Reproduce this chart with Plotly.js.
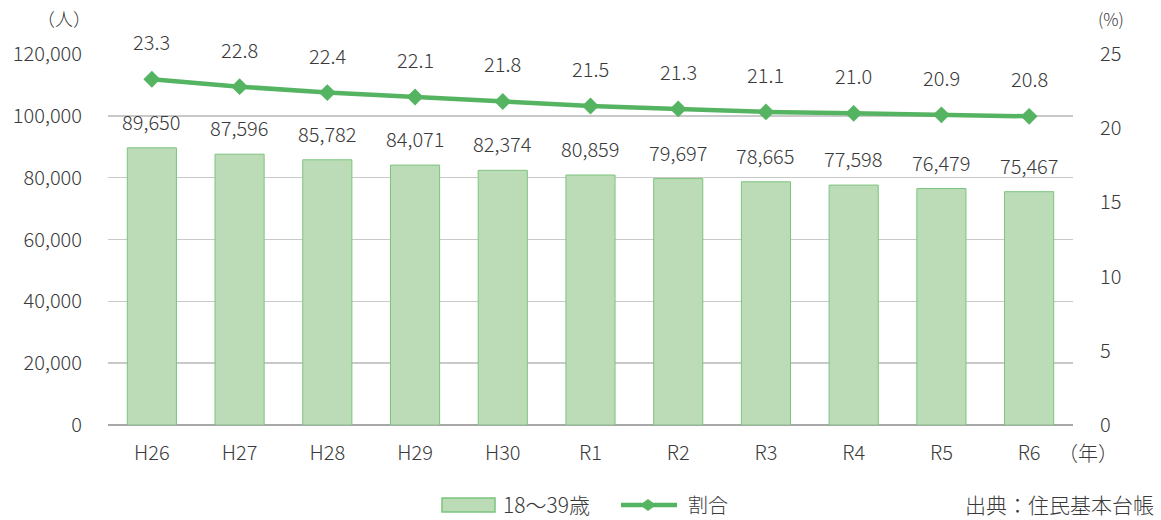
<!DOCTYPE html>
<html>
<head>
<meta charset="utf-8">
<script src="https://cdn.plot.ly/plotly-3.0.1.min.js"></script>
<style>html,body{margin:0;padding:0;background:#fff;}#chart{width:1161px;height:520px;}</style>
</head>
<body>
<div id="chart"></div>
<script>
const years = ['H26','H27','H28','H29','H30','R1','R2','R3','R4','R5','R6'];
const population = [89650, 87596, 85782, 84071, 82374, 80859, 79697, 78665, 77598, 76479, 75467];
const ratio = [23.3, 22.8, 22.4, 22.1, 21.8, 21.5, 21.3, 21.1, 21.0, 20.9, 20.8];
const leftTicks = [0, 20000, 40000, 60000, 80000, 100000, 120000];
const leftTickText = ['0','20,000','40,000','60,000','80,000','100,000','120,000'];
const rightTicks = [0, 5, 10, 15, 20, 25];
const barName = '18～39歳';
const lineName = '割合';

const FONT = '"Noto Sans CJK JP", "Noto Sans", sans-serif';
const TXT = '#3a3a3a';
const GREEN = '#55b461';
const BARFILL = '#bcdcb7';
const BAREDGE = '#7cc47e';

// plot area geometry (pixels) for converting decoration positions to paper coords
const W = 1161, H = 520, ML = 108, MR = 88, MT = 54, MB = 95;
const PW = W - ML - MR, PH = H - MT - MB;
const px = v => (v - ML) / PW;
const py = v => (H - MB - v) / PH;

const barTrace = {
  type: 'bar', x: years, y: population, name: barName, showlegend: false,
  marker: {color: BARFILL, line: {color: BAREDGE, width: 1}},
  hoverinfo: 'skip'
};
const lineTrace = {
  type: 'scatter', mode: 'lines+markers', x: years, y: ratio, yaxis: 'y2', name: lineName, showlegend: false,
  line: {color: GREEN, width: 4.5},
  marker: {symbol: 'diamond', size: 13, color: GREEN},
  hoverinfo: 'skip'
};

const labelFont = {family: FONT, size: 20, color: TXT, weight: 300};
const annotations = [];
years.forEach((c, i) => {
  annotations.push({x: c, y: population[i], xref: 'x', yref: 'y', text: population[i].toLocaleString('en-US'),
    showarrow: false, yanchor: 'bottom', yshift: 10, font: labelFont});
  annotations.push({x: c, y: ratio[i], xref: 'x', yref: 'y2', text: ratio[i].toFixed(1),
    showarrow: false, yanchor: 'bottom', yshift: 21, font: labelFont});
});
annotations.push({xref: 'paper', yref: 'paper', x: px(64), y: py(18), text: '（人）', showarrow: false,
  xanchor: 'center', yanchor: 'middle', font: {family: FONT, size: 18, color: TXT, weight: 300}});
annotations.push({xref: 'paper', yref: 'paper', x: px(1111), y: py(18), text: '(%)', showarrow: false,
  xanchor: 'center', yanchor: 'middle', font: {family: FONT, size: 17, color: TXT, weight: 300}});
annotations.push({xref: 'paper', yref: 'paper', x: px(1056), y: py(452), text: '（年）', showarrow: false,
  xanchor: 'left', yanchor: 'middle', font: labelFont});
annotations.push({xref: 'paper', yref: 'paper', x: px(1156), y: py(504), text: '出典：住民基本台帳', showarrow: false,
  xanchor: 'right', yanchor: 'middle', font: {family: FONT, size: 21, color: TXT, weight: 300}});
// manual legend texts
annotations.push({xref: 'paper', yref: 'paper', x: px(501), y: py(504), text: barName, showarrow: false,
  xanchor: 'left', yanchor: 'middle', font: {family: FONT, size: 21, color: TXT, weight: 300}});
annotations.push({xref: 'paper', yref: 'paper', x: px(686), y: py(504), text: lineName, showarrow: false,
  xanchor: 'left', yanchor: 'middle', font: labelFont});

const dx = 648, dy = 505;
const shapes = [
  {type: 'rect', xref: 'paper', yref: 'paper', x0: px(442), x1: px(495), y0: py(512), y1: py(498),
    fillcolor: BARFILL, line: {color: BAREDGE, width: 1.5}},
  {type: 'line', xref: 'paper', yref: 'paper', x0: px(621), x1: px(677), y0: py(dy), y1: py(dy),
    line: {color: GREEN, width: 4.5}},
  {type: 'path', xref: 'paper', yref: 'paper',
    path: `M ${px(dx-8)} ${py(dy)} L ${px(dx)} ${py(dy-6)} L ${px(dx+8)} ${py(dy)} L ${px(dx)} ${py(dy+6)} Z`,
    fillcolor: GREEN, line: {color: GREEN, width: 0}}
];

const layout = {
  width: W, height: H,
  margin: {l: ML, r: MR, t: MT, b: MB, autoexpand: false},
  paper_bgcolor: '#fff', plot_bgcolor: '#fff',
  font: {family: FONT, size: 20, color: TXT, weight: 300},
  bargap: 0.44,
  showlegend: false,
  xaxis: {type: 'category', range: [-0.5, years.length - 0.5], showgrid: false, zeroline: false, showline: false,
    automargin: false, ticks: '', ticklabelstandoff: 14, tickfont: labelFont, fixedrange: true},
  yaxis: {range: [0, 120000], tickvals: leftTicks, ticktext: leftTickText, showgrid: true, automargin: false,
    gridcolor: '#c9c9c9', gridwidth: 1.5, zeroline: true, zerolinecolor: '#a8a8a8', zerolinewidth: 2,
    showline: false, ticks: '', ticklabelstandoff: 25, tickfont: labelFont},
  yaxis2: {range: [0, 25], tickvals: rightTicks, overlaying: 'y', side: 'right', showgrid: false, automargin: false,
    zeroline: false, showline: false, ticks: '', ticklabelstandoff: 26, tickfont: labelFont},
  annotations: annotations,
  shapes: shapes
};

Plotly.newPlot('chart', [barTrace, lineTrace], layout, {staticPlot: true, displayModeBar: false});
</script>
</body>
</html>
